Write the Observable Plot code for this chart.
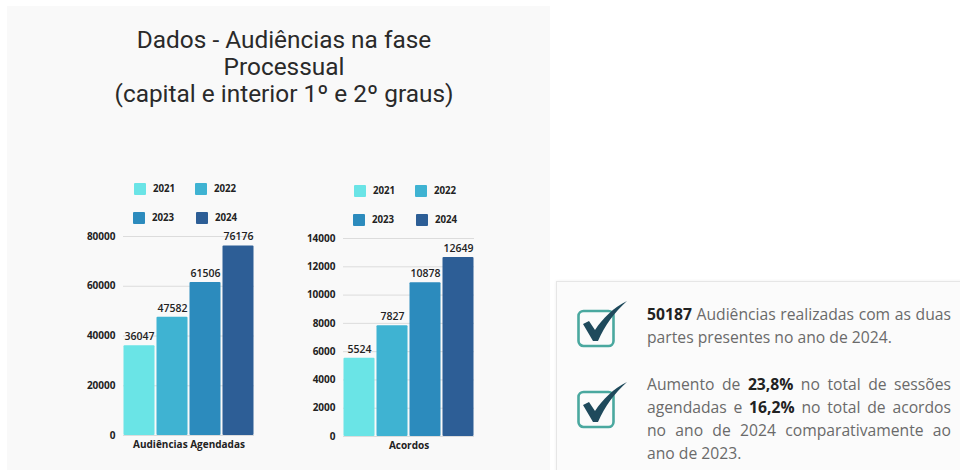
<!DOCTYPE html>
<html lang="pt">
<head>
<meta charset="utf-8">
<script src="https://cdn.jsdelivr.net/npm/d3@7"></script>
<script src="https://cdn.jsdelivr.net/npm/@observablehq/plot@0.6"></script>
<style>
html,body{margin:0;padding:0;background:#fff;width:960px;height:470px;overflow:hidden}
.abs{position:absolute}
#leftPanel{left:7px;top:6px;width:543px;height:464px;background:#f9f9f9}
#title{left:7px;width:554px;top:26px;text-align:center;font:24.4px/27px Roboto,sans-serif;color:#2a2a2a}
#rightPanel{left:556px;top:281px;width:410px;height:200px;background:#fbfbfb;border:1px solid #e6e6e6;box-sizing:border-box;box-shadow:0 0 3px #eee}
.note{left:647px;width:304px;font:15.7px/23px "Open Sans",sans-serif;color:#6a6a6a;text-align:justify}
.note b{color:#222;font-weight:700}
.swatch{position:absolute;width:12px;height:12px;border-radius:1px}
.lab{position:absolute;font:700 9.7px/12px "Open Sans",sans-serif;color:#222}
#charts svg{position:absolute}
</style>
</head>
<body>
<div class="abs" id="leftPanel"></div>
<div class="abs" id="title">Dados - Audiências na fase<br>Processual<br>(capital e interior 1º e 2º graus)</div>
<div class="abs" id="rightPanel"></div>
<div class="abs note" style="top:303px">
<b>50187</b> Audiências realizadas com as duas partes presentes no ano de 2024.</div>
<div class="abs note" style="top:373px">
Aumento de <b>23,8%</b> no total de sessões agendadas e <b>16,2%</b> no total de acordos no ano de 2024 comparativamente ao ano de 2023.</div>
<div id="charts"></div>
<script>
const years = ["2021", "2022", "2023", "2024"];
const colors = ["#6ae4e6", "#3fb3d2", "#2c8bbd", "#2d5e96"];
const audiencias = [36047, 47582, 61506, 76176];
const acordos = [5524, 7827, 10878, 12649];
const audienciasTicks = [0, 20000, 40000, 60000, 80000];
const acordosTicks = [0, 2000, 4000, 6000, 8000, 10000, 12000, 14000];

function chart(category, values, ticks, left, top, height) {
  const rows = years.map((year, i) => ({category, year, value: values[i]}));
  const plot = Plot.plot({
    width: 200, height,
    marginLeft: 62.5, marginRight: 6, marginTop: 10, marginBottom: 22,
    style: {background: "transparent", fontFamily: "'Open Sans',sans-serif", overflow: "visible"},
    x: {domain: years, paddingInner: 0.05, paddingOuter: 0, axis: null},
    fx: {label: null, padding: 0, tickSize: 0, tickPadding: 5.5, fontWeight: 700},
    y: {domain: [0, ticks[ticks.length - 1]], label: null, ticks, tickSize: 0, tickPadding: 8, tickFormat: d => String(d)},
    color: {domain: years, range: colors},
    marks: [
      Plot.ruleY(ticks, {stroke: "#dcdcdc", strokeWidth: 1}),
      Plot.barY(rows, {fx: "category", x: "year", y: "value", fill: "year", rx: 1}),
      Plot.text(rows, {fx: "category", x: "year", y: "value", text: d => String(d.value), dy: -9, fontSize: 10.5, fontWeight: 600, fill: "#222"})
    ]
  });
  plot.style.left = left + "px";
  plot.style.top = top + "px";
  plot.querySelectorAll("g[aria-label$='axis tick label']").forEach(g => {
    g.setAttribute("font-weight", "700"); g.setAttribute("font-size", "10"); g.setAttribute("fill", "#222");
  });
  document.getElementById("charts").appendChild(plot);
}
chart("Audiências Agendadas", audiencias, audienciasTicks, 60, 226, 231);
chart("Acordos", acordos, acordosTicks, 280, 228, 230);

function legend(slots) {
  slots.forEach((slot, i) => {
    const s = document.createElement("div");
    s.className = "swatch";
    s.style.cssText = `left:${slot[0]}px;top:${slot[1]}px;background:${colors[i]}`;
    const l = document.createElement("div");
    l.className = "lab";
    l.style.cssText = `left:${slot[0] + 19}px;top:${slot[1]}px`;
    l.textContent = years[i];
    document.body.append(s, l);
  });
}
legend([[134,183],[195,183],[133,212],[196,212]]);
legend([[354,185],[415,185],[353,214],[416,214]]);

function check(left, top) {
  const ns = "http://www.w3.org/2000/svg";
  const svg = document.createElementNS(ns, "svg");
  svg.setAttribute("width", 56); svg.setAttribute("height", 52);
  svg.style.cssText = `position:absolute;left:${left}px;top:${top}px`;
  svg.innerHTML = '<rect x="2.5" y="11" width="35" height="35" rx="5" fill="none" stroke="#4aa89f" stroke-width="2.6"/>' +
    '<path d="M7 24 L13 21 L19 30 C27 18 37 8 51 1 C38 13 29 25 22 41 L17 41 Z" fill="#1f4a5c"/>';
  document.body.appendChild(svg);
}
check(576, 300);
check(576, 381);
</script>
</body>
</html>
